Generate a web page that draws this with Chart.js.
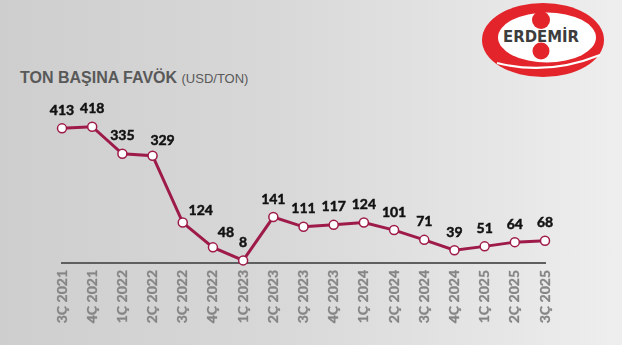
<!DOCTYPE html>
<html>
<head>
<meta charset="utf-8">
<script src="https://cdn.jsdelivr.net/npm/chart.js@4"></script>
<style>
  html, body { margin:0; padding:0; }
  body { width:622px; height:345px; overflow:hidden; position:relative;
    background: linear-gradient(to right, #cecece 0%, #d8d8d8 45%, #eeeeee 100%); }
  #wrap { position:absolute; left:0; top:0; width:622px; height:345px; }
  #title { position:absolute; left:20px; top:69px; font-family:"Liberation Sans", Arial, sans-serif; color:#595959; white-space:nowrap; }
  #title b { font-size:16px; }
  #title span { font-size:13px; }
  #logo { position:absolute; left:470px; top:0; }
</style>
</head>
<body>
<div id="title"><b>TON BAŞINA FAVÖK</b> <span>(USD/TON)</span></div>
<svg id="logo" width="152" height="82" viewBox="470 0 152 82">
  <ellipse cx="543" cy="40" rx="61" ry="37" fill="#e3242b"/>
  <ellipse cx="547" cy="37.5" rx="49" ry="25" fill="#ffffff"/>
  <path d="M497 63 Q548 76 600 55" stroke="#ffffff" stroke-width="2.2" fill="none"/>
  <circle cx="541" cy="20" r="9" fill="#e3242b"/>
  <circle cx="541" cy="51" r="8.5" fill="#e3242b"/>
  <text x="541" y="42" text-anchor="middle" font-family="'DejaVu Sans Condensed','DejaVu Sans',sans-serif" font-weight="bold" font-size="15" fill="#3d3d3d" textLength="76" lengthAdjust="spacingAndGlyphs">ERDEMİR</text>
</svg>
<div id="wrap"><canvas id="c" width="622" height="345"></canvas></div>
<script>
const categories = ["3Ç 2021","4Ç 2021","1Ç 2022","2Ç 2022","3Ç 2022","4Ç 2022","1Ç 2023","2Ç 2023","3Ç 2023","4Ç 2023","1Ç 2024","2Ç 2024","3Ç 2024","4Ç 2024","1Ç 2025","2Ç 2025","3Ç 2025"];
const favok = [413,418,335,329,124,48,8,141,111,117,124,101,71,39,51,64,68];
const yMin = 0;
const yMax = 500;

// label placement tweaks (style only): index -> [dx, dy]
const labelNudge = { 3: [10, 3], 4: [18, 6], 5: [13, 3] };

const labelPlugin = {
  id: 'customLabels',
  afterDatasetsDraw(chart) {
    const ctx = chart.ctx;
    const meta = chart.getDatasetMeta(0);
    ctx.save();
    ctx.font = "bold 14px Lato, 'Liberation Sans', sans-serif";
    ctx.fillStyle = "#111111";
    ctx.strokeStyle = "#111111";
    ctx.lineWidth = 0.5;
    ctx.textAlign = "center";
    ctx.textBaseline = "middle";
    meta.data.forEach((pt, i) => {
      const n = labelNudge[i] || [0, 0];
      const x = pt.x + n[0], y = pt.y - 18 + n[1];
      ctx.strokeText(String(favok[i]), x, y);
      ctx.fillText(String(favok[i]), x, y);
    });
    ctx.restore();
  },
  afterDraw(chart) {
    const ctx = chart.ctx;
    const xs = chart.scales.x;
    ctx.save();
    ctx.font = "bold 14px Lato, 'Liberation Sans', sans-serif";
    ctx.fillStyle = "#858585";
    ctx.strokeStyle = "#858585";
    ctx.lineWidth = 0.3;
    ctx.textAlign = "right";
    ctx.textBaseline = "middle";
    categories.forEach((lab, i) => {
      const x = xs.getPixelForTick(i);
      ctx.save();
      ctx.translate(x, chart.chartArea.bottom + 7);
      ctx.rotate(-Math.PI / 2);
      ctx.strokeText(lab, 0, 0);
      ctx.fillText(lab, 0, 0);
      ctx.restore();
    });
    ctx.restore();
  }
};

new Chart(document.getElementById('c'), {
  type: 'line',
  data: {
    labels: categories,
    datasets: [{
      data: favok,
      borderColor: '#9e1a48',
      borderWidth: 3,
      pointRadius: 4.5,
      pointBackgroundColor: '#ffffff',
      pointBorderColor: '#9e1a48',
      pointBorderWidth: 1.5,
      tension: 0,
      clip: false
    }]
  },
  options: {
    responsive: false,
    animation: false,
    events: [],
    layout: { padding: { left: 62, right: 77, top: 100, bottom: 0 } },
    plugins: { legend: { display: false }, tooltip: { enabled: false } },
    scales: {
      x: {
        offset: false,
        grid: { display: false, drawTicks: false },
        border: { display: true, color: '#5f5f5f', width: 2 },
        ticks: { display: false },
        afterFit(scale) { scale.height = 82; }
      },
      y: {
        display: false,
        min: yMin,
        max: yMax
      }
    }
  },
  plugins: [labelPlugin]
});
</script>
</body>
</html>
